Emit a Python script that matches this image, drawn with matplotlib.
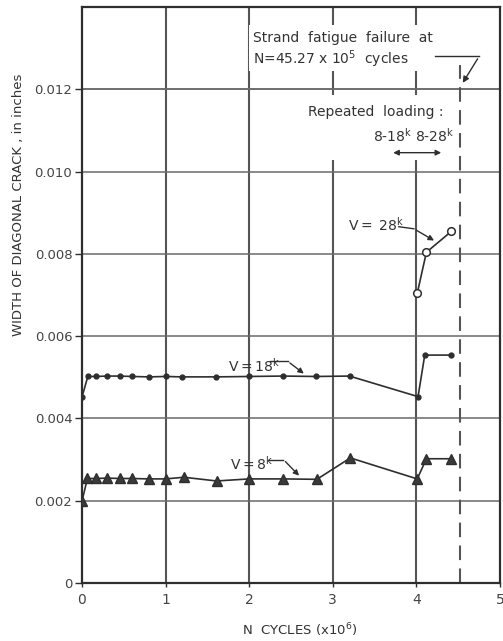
import matplotlib
matplotlib.use("Agg")
import matplotlib.pyplot as plt
from matplotlib.patches import Rectangle

# V = 18 kips, small filled dots
n18 = [0.0, 0.07, 0.17, 0.30, 0.45, 0.60, 0.80, 1.0, 1.2, 1.6, 2.0, 2.4, 2.8, 3.2, 4.02, 4.10, 4.41]
w18 = [0.00452, 0.00502, 0.00502, 0.00503, 0.00503, 0.00502, 0.00501, 0.00502, 0.00501,
       0.00501, 0.00502, 0.00503, 0.00502, 0.00503, 0.00453, 0.00554, 0.00554]

# V = 8 kips, filled triangles
n8 = [0.0, 0.065, 0.17, 0.30, 0.45, 0.60, 0.80, 1.0, 1.22, 1.61, 2.0, 2.41, 2.81, 3.21, 4.01, 4.12, 4.41]
w8 = [0.00199, 0.00254, 0.00254, 0.00255, 0.00254, 0.00254, 0.00253, 0.00253, 0.00257,
      0.00248, 0.00253, 0.00253, 0.00252, 0.00304, 0.00253, 0.00302, 0.00302]

# V = 28 kips, open circles
n28 = [4.01, 4.12, 4.42]
w28 = [0.00704, 0.00804, 0.00855]

N_FAIL = 4.527
xticks = [0, 1, 2, 3, 4, 5]
yticks = [0, 0.002, 0.004, 0.006, 0.008, 0.010, 0.012]
ylabels = ["0", "0.002", "0.004", "0.006", "0.008", "0.010", "0.012"]

INK = "#2e2e2e"
GRID = "#555555"

fig = plt.figure(figsize=(5.03, 6.41), dpi=100)
ax = fig.add_axes([0.163, 0.0905, 0.831, 0.8985])
ax.set_xlim(0, 5)
ax.set_ylim(0, 0.014)

ax.set_xticks(xticks)
ax.set_xticklabels([str(t) for t in xticks])
ax.set_yticks(yticks)
ax.set_yticklabels(ylabels)
ax.tick_params(axis="y", direction="out", length=5, width=1, color=INK,
               labelsize=9.5, labelcolor="#444444", pad=2)
ax.tick_params(axis="x", direction="out", length=3, width=1, color=INK,
               labelsize=10, labelcolor="#444444", pad=4)
for s in ax.spines.values():
    s.set_color(INK)
    s.set_linewidth(1.6)

for x in xticks[1:-1]:
    ax.axvline(x, color=GRID, lw=1.5, zorder=0)
for y in yticks[1:]:
    ax.axhline(y, color="#6a6a6a", lw=1.1, zorder=0)

# white patches where the notes break the grid lines
ax.add_patch(Rectangle((2.0, 0.01244), 2.4, 0.00112, fc="white", ec="none", zorder=0.5))
ax.add_patch(Rectangle((2.7, 0.01027), 1.77, 0.00158, fc="white", ec="none", zorder=0.5))
ax.axhline(0.012, color="#6a6a6a", lw=1.1, zorder=0.6)

ax.plot([N_FAIL, N_FAIL], [0, 0.0126], color="#555555", lw=1.5,
        dashes=(7, 4), zorder=1)

ax.plot(n18, w18, color=INK, lw=1.2, marker="o", ms=3.5, mfc=INK, mec=INK, zorder=3)
ax.plot(n8, w8, color=INK, lw=1.2, marker="^", ms=6.5, mfc="#3a3a3a", mec=INK, zorder=3)
ax.plot(n28, w28, color=INK, lw=1.2, marker="o", ms=5.5, mfc="white", mec=INK,
        mew=1.1, zorder=3)

lab = dict(fontsize=10, color="#333333", zorder=5)

# series labels with leaders
ax.text(1.75, 0.00527, r"V$=$18$^{\mathrm{k}}$", ha="left", va="center", **lab)
ax.plot([2.25, 2.46], [0.00539, 0.00539], color=INK, lw=1.0, zorder=4)
ax.annotate("", xy=(2.68, 0.00505), xytext=(2.46, 0.00539),
            arrowprops=dict(arrowstyle="-|>", color=INK, lw=1.0, mutation_scale=8))

ax.text(1.77, 0.00290, r"V$=$8$^{\mathrm{k}}$", ha="left", va="center", **lab)
ax.plot([2.23, 2.41], [0.00300, 0.00300], color=INK, lw=1.0, zorder=4)
ax.annotate("", xy=(2.62, 0.00256), xytext=(2.41, 0.00300),
            arrowprops=dict(arrowstyle="-|>", color=INK, lw=1.0, mutation_scale=8))

ax.text(3.18, 0.00870, r"V$=$ 28$^{\mathrm{k}}$", ha="left", va="center", **lab)
ax.plot([3.79, 3.97], [0.00866, 0.00861], color=INK, lw=1.0, zorder=4)
ax.annotate("", xy=(4.24, 0.00829), xytext=(3.97, 0.00861),
            arrowprops=dict(arrowstyle="-|>", color=INK, lw=1.0, mutation_scale=8))

# failure note
ax.text(2.05, 0.01294, "Strand  fatigue  failure  at\nN=45.27 x 10$^{5}$  cycles",
        ha="left", va="center", linespacing=1.25, **lab)
ax.plot([4.22, 4.75], [0.01280, 0.01280], color=INK, lw=1.0, zorder=4)
ax.annotate("", xy=(N_FAIL + 0.01, 0.01210), xytext=(4.75, 0.01280),
            arrowprops=dict(arrowstyle="-|>", color=INK, lw=1.0, mutation_scale=9))

# loading note
ax.text(4.32, 0.01146, "Repeated  loading :", ha="right", va="center", **lab)
ax.text(4.45, 0.01088, r"8-18$^{\mathrm{k}}$ 8-28$^{\mathrm{k}}$", ha="right",
        va="center", **lab)
ax.annotate("", xy=(3.69, 0.01046), xytext=(4.33, 0.01046),
            arrowprops=dict(arrowstyle="<|-|>", color=INK, lw=1.0, mutation_scale=8))

ax.text(-0.153, 0.656, "WIDTH OF DIAGONAL CRACK , in inches", transform=ax.transAxes,
        rotation=90, ha="center", va="center", fontsize=9.5, color="#333333")
ax.text(0.52, -0.082, "N  CYCLES (x10$^{6}$)", transform=ax.transAxes,
        ha="center", va="center", fontsize=9.5, color="#333333")

fig.savefig("out.png", dpi=100, facecolor="white")
